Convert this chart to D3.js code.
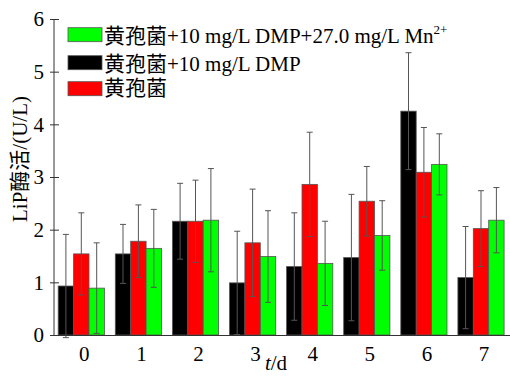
<!DOCTYPE html>
<html><head><meta charset="utf-8">
<script src="https://cdn.jsdelivr.net/npm/d3@7"></script>
<style>
html,body{margin:0;padding:0;background:#fff;}
svg text{font-family:"Liberation Serif","Times New Roman","Noto Sans CJK SC",serif;fill:#000;}
</style>
</head><body>
<svg id="c" width="510" height="376"></svg>
<script>
const categories = ["0","1","2","3","4","5","6","7"];
const seriesNames = ["黄孢菌+10 mg/L DMP", "黄孢菌", "黄孢菌+10 mg/L DMP+27.0 mg/L Mn"];
const seriesColors = ["#000000", "#ff0000", "#00ff00"];
const blackValues = [0.93, 1.54, 2.16, 0.99, 1.30, 1.47, 4.25, 1.09];
const blackErrors = [0.98, 0.56, 0.72, 0.98, 1.02, 1.20, 1.11, 0.97];
const redValues   = [1.54, 1.78, 2.16, 1.75, 2.86, 2.54, 3.09, 2.02];
const redErrors   = [0.78, 0.69, 0.78, 1.02, 0.99, 0.66, 0.85, 0.72];
const greenValues = [0.89, 1.645, 2.18, 1.49, 1.36, 1.89, 3.24, 2.18];
const greenErrors = [0.86, 0.74, 0.98, 0.87, 0.80, 0.66, 0.58, 0.62];
const yTicks = [0,1,2,3,4,5,6];
const legendOrder = [2, 0, 1];

const values = [blackValues, redValues, greenValues];
const errors = [blackErrors, redErrors, greenErrors];

const svg = d3.select("#c");
const y = d3.scaleLinear().domain([0,6]).range([335,19]);
const x0 = d3.scaleBand().domain(categories).range([52.75, 509.55]).paddingInner(0).paddingOuter(0);
const x1 = d3.scaleBand().domain([0,1,2]).range([5.45, 51.65]);

// bars
const groups = svg.append("g").selectAll("g").data(categories).join("g")
  .attr("transform", d => `translate(${x0(d)},0)`);

groups.each(function(cat, i){
  const g = d3.select(this);
  [0,1,2].forEach(s => {
    g.append("rect")
      .attr("x", x1(s)).attr("width", x1.bandwidth())
      .attr("y", y(values[s][i])).attr("height", y(0) - y(values[s][i]))
      .attr("fill", seriesColors[s]).attr("stroke", "#555").attr("stroke-width", 0.8);
  });
  [0,1,2].forEach(s => {
    const cx = x1(s) + x1.bandwidth()/2;
    const v = values[s][i], e = errors[s][i];
    const eg = g.append("g").attr("stroke", "#555").attr("stroke-width", 1);
    eg.append("line").attr("x1", cx).attr("x2", cx).attr("y1", y(v+e)).attr("y2", y(v-e));
    eg.append("line").attr("x1", cx-3).attr("x2", cx+3).attr("y1", y(v+e)).attr("y2", y(v+e));
    eg.append("line").attr("x1", cx-3).attr("x2", cx+3).attr("y1", y(v-e)).attr("y2", y(v-e));
  });
});

// y axis
const yAxis = svg.append("g").attr("transform", "translate(54,0)")
  .call(d3.axisLeft(y).tickValues(yTicks).tickFormat(d3.format("d")).tickSize(-5).tickPadding(10));
yAxis.select(".domain").attr("stroke", "#333").attr("d", "M0,19V335");
yAxis.selectAll(".tick line").attr("stroke", "#333").attr("x1", -4).attr("x2", 5);
yAxis.selectAll(".tick text").attr("font-size", 21).attr("font-family", "Liberation Serif").attr("dy", "0.33em");

// x axis line
svg.append("line").attr("x1", 54).attr("x2", 510).attr("y1", 335.5).attr("y2", 335.5)
  .attr("stroke", "#333").attr("stroke-width", 1);
// x labels
svg.append("g").selectAll("text").data(categories).join("text")
  .attr("x", d => x0(d) + x0.bandwidth()/2 + 3).attr("y", 361)
  .attr("text-anchor", "middle").attr("font-size", 21).text(d => d);

// axis titles
const xt = svg.append("text").attr("x", 276).attr("y", 370).attr("text-anchor", "middle").attr("font-size", 21);
xt.append("tspan").attr("font-style", "italic").text("t");
xt.append("tspan").text("/d");

svg.append("text").attr("transform", "translate(27,159) rotate(-90)")
  .attr("text-anchor", "middle").attr("font-size", 21).text("LiP酶活/(U/L)");

// legend
const legY = [27.7, 55.7, 81.7];
const legBase = [43, 71, 95];
legendOrder.forEach((s, k) => {
  svg.append("rect").attr("x", 68).attr("y", legY[k]).attr("width", 34).attr("height", 14)
    .attr("fill", seriesColors[s]).attr("stroke", "#555").attr("stroke-width", 0.8);
  const t = svg.append("text").attr("x", 104).attr("y", legBase[k]).attr("font-size", 21);
  t.append("tspan").text(seriesNames[s]);
  if (s === 2) {
    t.append("tspan").attr("font-size", 13).attr("dy", -9).text("2+");
  }
});
</script>
</body></html>
